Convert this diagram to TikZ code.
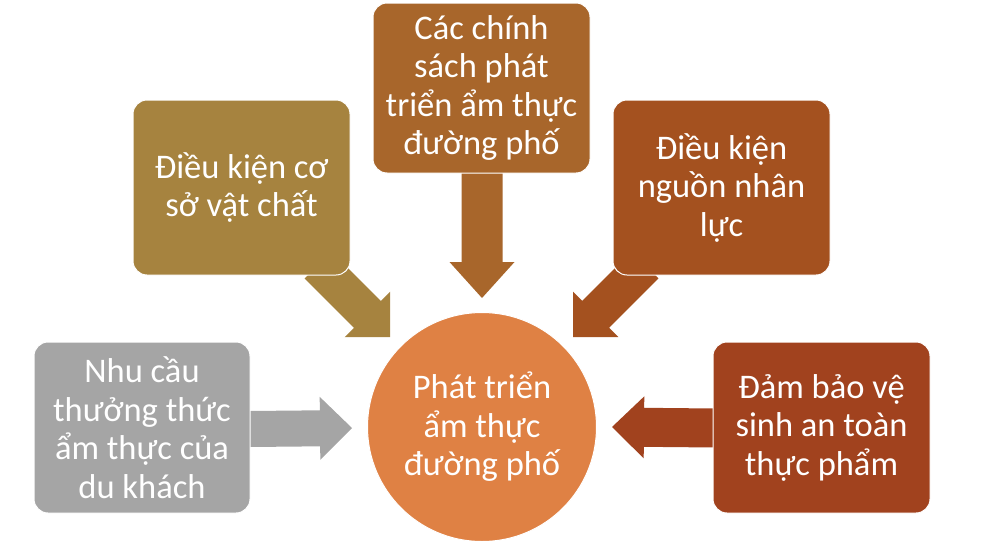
\documentclass[tikz,border=0pt]{standalone}
\usepackage{fontspec}
\setmainfont{Carlito}
\usetikzlibrary{calc}
\definecolor{cgray}{HTML}{A5A5A5}
\definecolor{cgold}{HTML}{A6833F}
\definecolor{cbrown}{HTML}{A8662B}
\definecolor{crust}{HTML}{A4511F}
\definecolor{cred}{HTML}{A1421E}
\definecolor{corange}{HTML}{DF8144}
\newcommand\blockarrow[6]{% start, end, half shaft, half head, head length, colour
  \fill[#6] ($(#1)!#3!90:(#2)$) -- ($(#2)!#5!(#1)!#3!90:(#2)$) -- ($(#2)!#5!(#1)!#4!90:(#2)$)
    -- (#2) -- ($(#2)!#5!(#1)!#4!-90:(#2)$) -- ($(#2)!#5!(#1)!#3!-90:(#2)$)
    -- ($(#1)!#3!-90:(#2)$) -- cycle;}
\begin{document}
\begin{tikzpicture}[x=1pt,y=-1pt,
  txt/.style={text=white,align=center,font=\fontsize{34.5}{38.5}\selectfont},
  box/.style={txt,rectangle,rounded corners=14pt,draw=white,line width=1pt,inner sep=0pt}]
\useasboundingbox (0,0) rectangle (999,541);
% connector end points
\coordinate (a1s) at (250,429); \coordinate (a1e) at (352,428);
\coordinate (a2s) at (482,170); \coordinate (a2e) at (482,298);
\coordinate (a3s) at (318,265); \coordinate (a3e) at (390,337);
\coordinate (a4s) at (645,265); \coordinate (a4e) at (573,337);
\coordinate (a5s) at (715,428); \coordinate (a5e) at (612,427);
% block arrows
\blockarrow{a1s}{a1e}{18pt}{31.5pt}{32pt}{cgray}
\blockarrow{a2s}{a2e}{20.5pt}{32.5pt}{36pt}{cbrown}
\blockarrow{a3s}{a3e}{19pt}{32pt}{32pt}{cgold}
\blockarrow{a4s}{a4e}{19pt}{32pt}{32pt}{crust}
\blockarrow{a5s}{a5e}{19.5pt}{31pt}{32pt}{cred}
% boxes
\node[box,fill=cgray,minimum width=216pt,minimum height=171pt] (demand) at (142,427.5)
  {Nhu cầu\\thưởng thức\\ẩm thực của\\du khách};
\node[box,fill=cgold,minimum width=217pt,minimum height=175pt] (infra) at (241.5,187.5)
  {Điều kiện cơ\\sở vật chất};
\node[box,fill=cbrown,minimum width=217pt,minimum height=170pt] (policy) at (481.5,88)
  {Các chính\\sách phát\\triển ẩm thực\\đường phố};
\node[box,fill=crust,minimum width=217pt,minimum height=175pt] (staff) at (721.5,187.5)
  {Điều kiện\\nguồn nhân\\lực};
\node[box,fill=cred,minimum width=217pt,minimum height=171pt] (safety) at (821.5,427.5)
  {Đảm bảo vệ\\sinh an toàn\\thực phẩm};
% centre
\node[txt,circle,fill=corange,draw=white,line width=1pt,minimum size=229pt,inner sep=0pt] (core) at (482,427)
  {Phát triển\\ẩm thực\\đường phố};
\end{tikzpicture}
\end{document}
